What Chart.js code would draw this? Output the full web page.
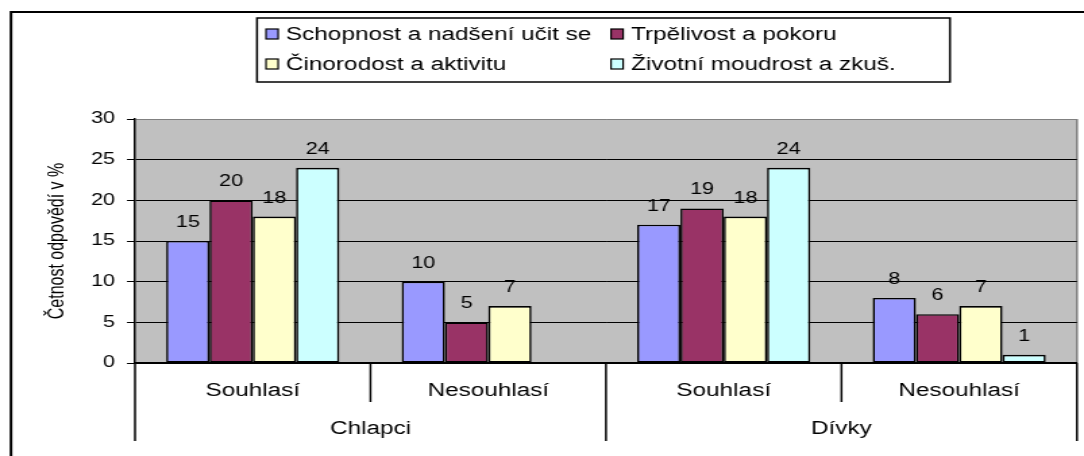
<!DOCTYPE html>
<html>
<head>
<meta charset="utf-8">
<script src="https://cdn.jsdelivr.net/npm/chart.js@4.4.1/dist/chart.umd.min.js"></script>
<style>
  body { margin: 0; background: #fff; }
  #chart { display: block; }
</style>
</head>
<body>
<canvas id="chart" style="width:1084px;height:456px"></canvas>
<script>
// data
const groups = ['Chlapci', 'Dívky'];
const categories = ['Souhlasí', 'Nesouhlasí', 'Souhlasí', 'Nesouhlasí'];
const seriesNames = ['Schopnost a nadšení učit se', 'Trpělivost a pokoru', 'Činorodost a aktivitu', 'Životní moudrost a zkuš.'];
const schopnost = [15, 10, 17, 8];
const trpelivost = [20, 5, 19, 6];
const cinorodost = [18, 7, 18, 7];
const zivotni = [24, null, 24, 1];
const yTicks = [0, 5, 10, 15, 20, 25, 30];
const axisTitle = 'Četnost odpovědí v %';

const colors = ['#9999FF', '#993366', '#FFFFCC', '#CCFFFF'];
const FONT = "'Liberation Sans', Arial, sans-serif";

// the old excel picture is stretched sideways, so the canvas is drawn narrower and widened by css
const SX = 1.35;
const hx = v => v / SX;
const W = Math.round(1084 / SX);
const H = 456;

const canvas = document.getElementById('chart');
canvas.width = W;
canvas.height = H;
canvas.style.width = '1084px';
canvas.style.height = H + 'px';
const ctx = canvas.getContext('2d');

// gray plot area + right gray edge
const plotBg = {
  id: 'plotBg',
  beforeDraw(chart) {
    const { ctx, chartArea: a } = chart;
    ctx.save();
    ctx.fillStyle = '#C0C0C0';
    ctx.fillRect(a.left, a.top, a.right - a.left, a.bottom - a.top);
    ctx.strokeStyle = '#808080';
    ctx.lineWidth = 1.5;
    ctx.beginPath();
    ctx.moveTo(a.right, a.top);
    ctx.lineTo(a.right, a.bottom);
    ctx.stroke();
    ctx.restore();
  }
};

// value labels on top of bars
const valueLabels = {
  id: 'valueLabels',
  afterDatasetsDraw(chart) {
    const { ctx } = chart;
    ctx.save();
    ctx.font = '16px ' + FONT;
    ctx.fillStyle = '#000';
    ctx.textAlign = 'center';
    ctx.textBaseline = 'alphabetic';
    chart.data.datasets.forEach((ds, i) => {
      chart.getDatasetMeta(i).data.forEach((bar, j) => {
        const v = ds.data[j];
        if (v == null) return;
        ctx.fillText(String(v), bar.x, bar.y - 14);
      });
    });
    ctx.restore();
  }
};

// category dividers, group labels, legend box and outer frame
const extras = {
  id: 'extras',
  afterDraw(chart) {
    const { ctx, chartArea: a } = chart;
    const xs = chart.scales.x;
    const step = xs.getPixelForValue(1) - xs.getPixelForValue(0);
    ctx.save();
    ctx.strokeStyle = '#000';
    ctx.lineWidth = 1.5;
    for (let i = 0; i <= categories.length; i++) {
      const x = xs.getPixelForValue(0) - step / 2 + i * step;
      const long = i % 2 === 0;
      ctx.beginPath();
      ctx.moveTo(x, a.bottom);
      ctx.lineTo(x, long ? 441 : 402);
      ctx.stroke();
    }
    ctx.font = '18px ' + FONT;
    ctx.fillStyle = '#000';
    ctx.textAlign = 'center';
    ctx.textBaseline = 'middle';
    groups.forEach((g, k) => {
      const x = xs.getPixelForValue(2 * k) + step / 2;
      ctx.fillText(g, x, 429);
    });

    // legend
    const lx = hx(257), ly = 18, lw = hx(950) - hx(257), lh = 64;
    ctx.lineWidth = 1.5;
    ctx.strokeRect(lx, ly, lw, lh);
    const cols = [hx(266), hx(611)];
    const rows = [34, 64];
    ctx.textAlign = 'left';
    seriesNames.forEach((name, i) => {
      const x = cols[i % 2], y = rows[Math.floor(i / 2)];
      ctx.fillStyle = colors[i];
      ctx.fillRect(x, y - 5, 9, 10);
      ctx.lineWidth = 1.2;
      ctx.strokeRect(x, y - 5, 9, 10);
      ctx.fillStyle = '#000';
      ctx.fillText(name, x + hx(20), y + 1);
    });

    // outer frame
    ctx.lineWidth = 2;
    ctx.beginPath();
    ctx.moveTo(W + 2, 12);
    ctx.lineTo(hx(11), 12);
    ctx.lineTo(hx(11), H + 2);
    ctx.stroke();
    ctx.restore();
  }
};

const chart = new Chart(ctx, {
  type: 'bar',
  data: {
    labels: categories,
    datasets: [schopnost, trpelivost, cinorodost, zivotni].map((d, i) => ({
      label: seriesNames[i],
      data: d,
      backgroundColor: colors[i],
      borderColor: '#000',
      borderWidth: 1.6,
      borderSkipped: false,
      categoryPercentage: 0.735,
      barPercentage: 1
    }))
  },
  options: {
    responsive: false,
    devicePixelRatio: 1,
    animation: false,
    events: [],
    layout: { padding: { top: 119, right: W - hx(1077), left: 0, bottom: 0 } },
    plugins: {
      legend: { display: false },
      tooltip: { enabled: false }
    },
    scales: {
      x: {
        grid: { display: true, drawOnChartArea: false, drawTicks: false, color: '#000' },
        border: { display: true, color: '#000', width: 1.5 },
        ticks: {
          color: '#000',
          font: { family: FONT, size: 18 },
          padding: 17,
          maxRotation: 0,
          autoSkip: false
        },
        afterFit: s => { s.height = H - 363; }
      },
      y: {
        min: 0,
        max: 30,
        afterBuildTicks: s => { s.ticks = yTicks.map(v => ({ value: v })); },
        grid: {
          color: c => (c.tick && c.tick.value === 30 ? '#808080' : '#000'),
          tickColor: '#000',
          tickLength: hx(135) - hx(127),
          lineWidth: 1
        },
        border: { display: true, color: '#000', width: 1.5 },
        ticks: {
          color: '#000',
          font: { family: FONT, size: 16 },
          padding: hx(127) - hx(115)
        },
        title: {
          display: true,
          text: axisTitle,
          color: '#000',
          font: { family: FONT, size: 16 },
          padding: { top: hx(57) - 9.6, bottom: 0 }
        },
        afterFit: s => { s.width = hx(135); }
      }
    }
  },
  plugins: [plotBg, valueLabels, extras]
});
</script>
</body>
</html>
